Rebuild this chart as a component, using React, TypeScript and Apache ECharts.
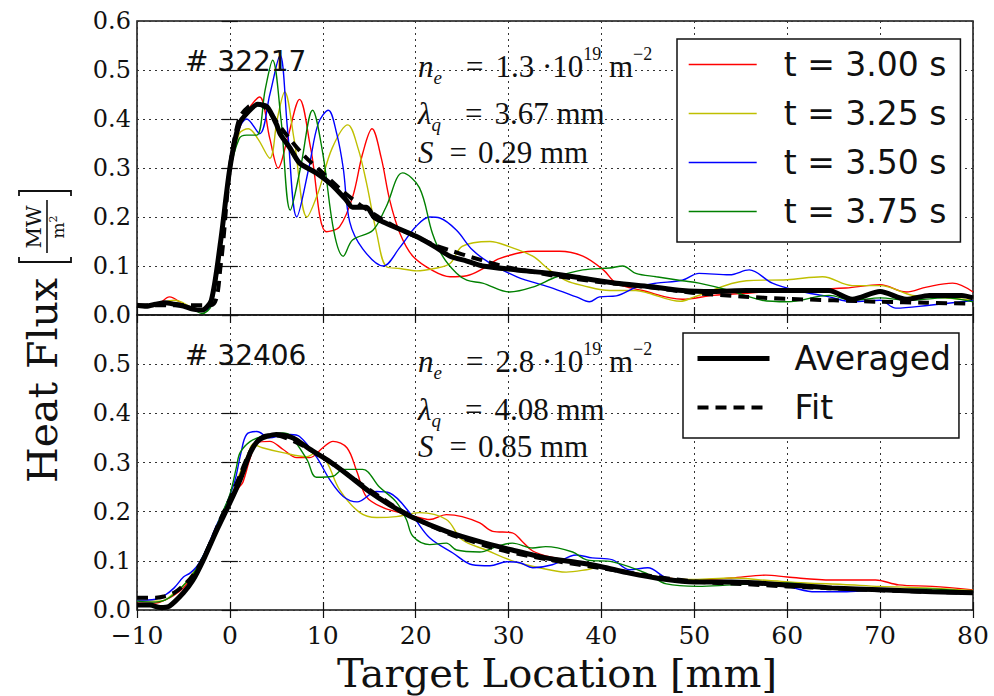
import React, { useEffect, useRef } from "react";
import * as echarts from "echarts";

type Pt = [number, number];

// Axis ranges (mm / MW m^-2)
const xMin = -10;
const xMax = 80;
const xStep = 10;
const yMin = 0;
const yMax = 0.6;
const yStep = 0.1;

const timeLabels = ["t = 3.00 s", "t = 3.25 s", "t = 3.50 s", "t = 3.75 s"];
const timeColors = ["#ff0000", "#bfbf00", "#0000ff", "#008000"];
const avgLabel = "Averaged";
const fitLabel = "Fit";

const shotIds = ["# 32217", "# 32406"];
const densities = ["1.3", "2.8"];
const lambdas = ["3.67", "4.08"];
const spreads = ["0.29", "0.85"];

// ---- Discharge #32217 ----
const s32217_t300: Pt[] = [
  [-10, 0.022], [-8, 0.02], [-6.5, 0.037], [-5, 0.022], [-3, 0.008], [-2, 0.02], [-1, 0.15], [0, 0.3], [1, 0.38],
  [2, 0.42], [3.2, 0.445], [4.3, 0.36], [5.2, 0.3], [6.2, 0.36], [7.5, 0.44], [8.7, 0.34], [10.4, 0.17], [11.8, 0.18],
  [13.2, 0.24], [14.3, 0.33], [15.3, 0.38], [16.3, 0.32], [17.2, 0.235], [18.3, 0.167], [19.7, 0.12], [21.9, 0.09],
  [23.7, 0.078], [25.5, 0.08], [27.3, 0.095], [29, 0.115], [32.6, 0.13], [35.5, 0.13], [38, 0.12], [40.2, 0.092],
  [41.6, 0.065], [44.4, 0.05], [48.7, 0.032], [52, 0.04], [56, 0.045], [60, 0.05], [66.3, 0.055], [70, 0.062],
  [72.8, 0.047], [75, 0.057], [77.8, 0.065], [80, 0.047],
];
const s32217_t325: Pt[] = [
  [-10, 0.02], [-8, 0.022], [-6, 0.03], [-4, 0.015], [-3, 0.01], [-2, 0.02], [-1, 0.14], [0, 0.29], [1, 0.37],
  [2, 0.38], [3, 0.36], [4.3, 0.32], [5.1, 0.4], [5.9, 0.455], [6.9, 0.36], [8.3, 0.2], [9.5, 0.25], [11, 0.34],
  [12.7, 0.388], [13.8, 0.34], [14.7, 0.27], [15.8, 0.167], [16.9, 0.098], [18.3, 0.095], [20.1, 0.09], [22, 0.095],
  [23.7, 0.105], [25, 0.14], [28, 0.15], [30, 0.14], [32.6, 0.12], [34.4, 0.092], [36.2, 0.07], [38, 0.06],
  [40.9, 0.05], [43.7, 0.05], [45, 0.045], [48.5, 0.028], [50, 0.037], [55.6, 0.07], [60, 0.072], [63.8, 0.078],
  [67, 0.06], [70, 0.06], [73.5, 0.04], [77, 0.035], [80, 0.03],
];
const s32217_t350: Pt[] = [
  [-10, 0.02], [-8, 0.02], [-6, 0.025], [-4, 0.015], [-3, 0.008], [-2, 0.02], [-1, 0.14], [0, 0.3], [1, 0.38],
  [1.8, 0.4], [3.2, 0.37], [4.3, 0.45], [5.4, 0.53], [6.2, 0.38], [7.2, 0.2], [8.5, 0.3], [9.5, 0.39], [10.6, 0.418],
  [11.5, 0.37], [12.2, 0.3], [12.9, 0.19], [14.3, 0.135], [16.5, 0.1], [18.3, 0.138], [20, 0.18], [21.5, 0.2],
  [22.6, 0.198], [24.4, 0.173], [26.1, 0.133], [28, 0.106], [30.9, 0.078], [34.4, 0.057], [37.3, 0.037],
  [38.7, 0.027], [39.8, 0.037], [41.6, 0.039], [43.8, 0.057], [45.9, 0.065], [48.7, 0.071], [50.5, 0.085],
  [53.8, 0.082], [55.9, 0.092], [58.4, 0.065], [61, 0.05], [64.5, 0.037], [67, 0.027], [70, 0.03], [71.7, 0.014],
  [75.3, 0.02], [78.8, 0.027], [80, 0.03],
];
const s32217_t375: Pt[] = [
  [-10, 0.02], [-8, 0.018], [-6, 0.025], [-4, 0.012], [-3, 0.003], [-2, 0.02], [-1, 0.13], [0, 0.29], [1, 0.36],
  [1.8, 0.367], [2.9, 0.367], [3.8, 0.46], [4.6, 0.52], [5.5, 0.4], [6.5, 0.214], [7.6, 0.3], [8.9, 0.418], [10, 0.33],
  [11.2, 0.17], [12.2, 0.12], [13.2, 0.153], [15.4, 0.173], [16.8, 0.22], [18.6, 0.29], [20.4, 0.26], [21.8, 0.167],
  [22.9, 0.12], [24.4, 0.085], [25.5, 0.071], [27.2, 0.065], [30.1, 0.047], [32.6, 0.057], [35.2, 0.078], [38, 0.092],
  [40.9, 0.096], [42.3, 0.1], [43.7, 0.085], [45.9, 0.078], [48.7, 0.07], [50.5, 0.065], [53.8, 0.05], [57.3, 0.03],
  [60, 0.027], [64.5, 0.04], [67, 0.03], [70, 0.035], [73, 0.03], [77, 0.035], [80, 0.027],
];
const s32217_avg: Pt[] = [
  [-10, 0.02], [-9, 0.018], [-8, 0.022], [-7, 0.025], [-6, 0.022], [-5, 0.018], [-4, 0.012], [-3, 0.01], [-2, 0.03],
  [-1, 0.15], [0, 0.3], [1, 0.39], [2, 0.415], [3, 0.43], [4, 0.425], [5, 0.39], [5.4, 0.37], [6.5, 0.34], [7.5, 0.31],
  [9.3, 0.29], [11, 0.265], [12.5, 0.235], [13.2, 0.22], [14.7, 0.22], [15.5, 0.2], [16.5, 0.19], [18.3, 0.175],
  [20.1, 0.16], [22, 0.14], [23.7, 0.12], [25.5, 0.11], [27.2, 0.1], [30.9, 0.092], [34.4, 0.085], [38, 0.075],
  [41.6, 0.065], [45.2, 0.058], [48.7, 0.05], [52, 0.048], [55.6, 0.05], [60, 0.05], [64.5, 0.05], [67, 0.032],
  [70, 0.048], [72.8, 0.032], [75.3, 0.04], [78.8, 0.04], [80, 0.035],
];
const s32217_fit: Pt[] = [
  [-10, 0.02], [-6, 0.02], [-2, 0.02], [-1, 0.1], [0, 0.3], [1, 0.4], [2, 0.425], [3, 0.43], [4, 0.42], [5, 0.395],
  [6, 0.37], [8, 0.325], [10, 0.29], [12, 0.255], [14, 0.225], [16, 0.2], [18, 0.178], [20, 0.16], [22, 0.143],
  [24, 0.13], [26, 0.118], [28, 0.107], [30, 0.097], [35, 0.08], [40, 0.067], [45, 0.057], [50, 0.045], [55, 0.038],
  [60, 0.033], [65, 0.03], [70, 0.027], [75, 0.025], [80, 0.023],
];

// ---- Discharge #32406 ----
const s32406_t300: Pt[] = [
  [-10, 0.014], [-8, 0.014], [-7, 0.02], [-6, 0.03], [-5, 0.045], [-4, 0.07], [-3, 0.1], [-2, 0.14], [-1, 0.18],
  [0, 0.22], [1, 0.25], [1.4, 0.26], [2.2, 0.31], [2.9, 0.34], [4.3, 0.343], [5.7, 0.327], [7.2, 0.31], [8.6, 0.31],
  [10, 0.33], [11.1, 0.343], [12.6, 0.33], [13.7, 0.28], [14.7, 0.23], [16.5, 0.208], [18.3, 0.198], [20, 0.19],
  [21.5, 0.184], [23.3, 0.194], [25, 0.19], [26.9, 0.177], [28.3, 0.16], [30.4, 0.157], [31.5, 0.139], [32.6, 0.12],
  [34.5, 0.108], [38, 0.096], [41.6, 0.082], [47, 0.065], [50, 0.061], [54, 0.065], [57.7, 0.071], [60, 0.067],
  [64.8, 0.061], [69.5, 0.061], [72, 0.051], [75.6, 0.048], [80, 0.041],
];
const s32406_t325: Pt[] = [
  [-10, 0.02], [-8, 0.018], [-7, 0.02], [-6, 0.035], [-5, 0.05], [-4, 0.075], [-3, 0.105], [-2, 0.145], [-1, 0.185],
  [0, 0.225], [1, 0.275], [2, 0.32], [2.5, 0.337], [3.5, 0.33], [5.7, 0.32], [8.3, 0.312], [9.3, 0.32], [10.4, 0.302],
  [11.8, 0.245], [14, 0.198], [15.8, 0.188], [17.9, 0.19], [20.4, 0.198], [23.3, 0.184], [25, 0.143], [27.6, 0.122],
  [30.4, 0.1], [33.3, 0.086], [36.2, 0.077], [38.4, 0.082], [40, 0.088], [43, 0.078], [47, 0.065], [50, 0.062],
  [54, 0.065], [58, 0.06], [62, 0.055], [66, 0.052], [70, 0.048], [75, 0.045], [80, 0.04],
];
const s32406_t350: Pt[] = [
  [-10, 0.02], [-8, 0.022], [-7, 0.03], [-6, 0.045], [-5, 0.067], [-4.3, 0.075], [-3.5, 0.09], [-2.5, 0.125],
  [-1.5, 0.17], [-0.5, 0.21], [0.5, 0.26], [1.2, 0.32], [1.8, 0.357], [2.9, 0.363], [4.3, 0.35], [5.5, 0.355],
  [6.5, 0.357], [7.5, 0.353], [9.3, 0.312], [10.75, 0.265], [12.2, 0.231], [13.7, 0.22], [15.8, 0.241], [17.2, 0.238],
  [19.7, 0.19], [21.5, 0.147], [24, 0.116], [26.1, 0.092], [28, 0.09], [29.8, 0.098], [31.2, 0.096], [32.6, 0.086],
  [34.7, 0.092], [37.3, 0.112], [39, 0.106], [41.2, 0.102], [43, 0.082], [45, 0.086], [47, 0.065], [50, 0.057],
  [55, 0.055], [60, 0.047], [63, 0.037], [66, 0.037], [70, 0.041], [75, 0.037], [80, 0.035],
];
const s32406_t375: Pt[] = [
  [-10, 0.018], [-8, 0.016], [-7, 0.02], [-6, 0.032], [-5, 0.05], [-4, 0.072], [-3, 0.105], [-2, 0.145], [-1, 0.19],
  [0, 0.235], [0.7, 0.29], [1.1, 0.32], [2.2, 0.343], [3.5, 0.353], [5.7, 0.36], [6.5, 0.355], [8.3, 0.306],
  [9.3, 0.27], [11.1, 0.272], [12.2, 0.286], [14.3, 0.286], [16.1, 0.25], [17.9, 0.22], [19, 0.184], [19.7, 0.15],
  [21.5, 0.133], [23.3, 0.136], [24.4, 0.122], [26.9, 0.118], [28.7, 0.129], [30.4, 0.136], [32.6, 0.126], [34, 0.129],
  [36.9, 0.118], [38.4, 0.102], [41.2, 0.098], [44.8, 0.075], [47, 0.053], [50.4, 0.048], [54, 0.051], [60, 0.055],
  [64.8, 0.045], [70, 0.041], [75, 0.043], [80, 0.037],
];
const s32406_avg: Pt[] = [
  [-10, 0.01], [-8.6, 0.01], [-7.5, 0.005], [-6.5, 0.008], [-5, 0.035], [-4, 0.06], [-2.9, 0.1], [-1.4, 0.163],
  [0, 0.218], [1.1, 0.265], [2.2, 0.32], [3.2, 0.347], [5, 0.357], [6.8, 0.35], [8.6, 0.327], [10.75, 0.302],
  [12.9, 0.272], [15, 0.241], [17.2, 0.214], [19.7, 0.188], [23.3, 0.16], [26.9, 0.139], [30.4, 0.122], [34, 0.106],
  [37.6, 0.096], [40, 0.088], [43, 0.075], [46.6, 0.063], [50, 0.057], [54, 0.057], [60, 0.051], [64.8, 0.045],
  [70, 0.041], [75.6, 0.037], [80, 0.035],
];
const s32406_fit: Pt[] = [
  [-10, 0.025], [-8, 0.025], [-7, 0.028], [-6, 0.035], [-5, 0.05], [-4, 0.07], [-3, 0.1], [-2, 0.14], [-1, 0.185],
  [0, 0.225], [1, 0.27], [2, 0.315], [3, 0.345], [4, 0.355], [5, 0.355], [6, 0.35], [8, 0.333], [10, 0.31],
  [12, 0.285], [14, 0.258], [16, 0.232], [18, 0.207], [20, 0.186], [22, 0.168], [24, 0.152], [26, 0.14], [28, 0.128],
  [30, 0.118], [35, 0.1], [40, 0.085], [45, 0.07], [50, 0.058], [55, 0.053], [60, 0.048], [65, 0.044], [70, 0.04],
  [75, 0.037], [80, 0.035],
];

const panels = [
  { shot: [s32217_t300, s32217_t325, s32217_t350, s32217_t375], avg: s32217_avg, fit: s32217_fit },
  { shot: [s32406_t300, s32406_t325, s32406_t350, s32406_t375], avg: s32406_avg, fit: s32406_fit },
];

const SERIF = "DejaVu Serif";
const SANS = "DejaVu Sans";
const MATH = "Liberation Serif";
const INK = "#111";

const GRID_LEFT = 137;
const GRID_RIGHT = 21;
const GRIDS = [
  { top: 21, height: 294 },
  { top: 315, height: 295 },
];

const MATH_SIZE = 31;
const MATH_LH = 42;
const mathRich: Record<string, any> = {
  it: { fontFamily: MATH, fontStyle: "italic", fontSize: MATH_SIZE, lineHeight: MATH_LH, fill: INK },
  sub: { fontFamily: MATH, fontStyle: "italic", fontSize: 19, verticalAlign: "bottom", fill: INK },
  sup: { fontFamily: MATH, fontSize: 18, verticalAlign: "top", fill: INK },
  rm: { fontFamily: MATH, fontSize: MATH_SIZE, lineHeight: MATH_LH, fill: INK },
  eqA: { fontFamily: MATH, fontSize: MATH_SIZE, lineHeight: MATH_LH, fill: INK, padding: [0, 12, 0, 24] },
  eqB: { fontFamily: MATH, fontSize: MATH_SIZE, lineHeight: MATH_LH, fill: INK, padding: [0, 11, 0, 16] },
};

function panelTexts(i: number, rowY: number[], idY: number) {
  const x0 = 418;
  const rows = [
    `{it|n}{sub|e}{eqA|=}{rm|${densities[i]} ·10}{sup|19}{rm| m}{sup|−2}`,
    `{it|λ}{sub|q}{eqA|=}{rm|${lambdas[i]} mm}`,
    `{it|S}{eqB|=}{rm|${spreads[i]} mm}`,
  ];
  const items: any[] = rows.map((t, k) => ({
    type: "text",
    x: x0,
    y: rowY[k],
    z: 50,
    style: { text: t, rich: mathRich, verticalAlign: "middle", align: "left", fill: INK },
  }));
  items.push({
    type: "text",
    x: 185,
    y: idY,
    z: 50,
    style: {
      text: shotIds[i],
      fontFamily: SANS,
      fontSize: 28,
      fill: INK,
      verticalAlign: "middle",
      align: "left",
    },
  });
  return items;
}

function yTitle() {
  return {
    type: "group",
    x: 45,
    y: 337,
    rotation: Math.PI / 2,
    z: 50,
    children: [
      {
        type: "text",
        x: -146,
        y: -2,
        style: { text: "Heat Flux", fontFamily: SERIF, fontSize: 41, fill: INK, verticalAlign: "middle", align: "left" },
      },
      {
        type: "polyline",
        shape: { points: [[80, -26], [75, -26], [75, 26], [80, 26]] },
        style: { stroke: INK, lineWidth: 1.8, fill: null },
      },
      {
        type: "polyline",
        shape: { points: [[141, -26], [146, -26], [146, 26], [141, 26]] },
        style: { stroke: INK, lineWidth: 1.8, fill: null },
      },
      {
        type: "text",
        x: 110,
        y: -11,
        style: { text: "MW", fontFamily: SERIF, fontSize: 21, fill: INK, verticalAlign: "middle", align: "center" },
      },
      {
        type: "line",
        shape: { x1: 84, y1: 2, x2: 137, y2: 2 },
        style: { stroke: INK, lineWidth: 1.6 },
      },
      {
        type: "text",
        x: 110,
        y: 13,
        style: {
          text: "{m|m}{s|2}",
          rich: {
            m: { fontFamily: SERIF, fontSize: 17, fill: INK, lineHeight: 20 },
            s: { fontFamily: SERIF, fontSize: 11, fill: INK, verticalAlign: "top" },
          },
          verticalAlign: "middle",
          align: "center",
        },
      },
    ],
  };
}

function buildOption() {
  const gridLine = { show: true, lineStyle: { color: "#333", type: [2, 4], width: 1 } };
  const tick = { show: true, inside: true, length: 8, lineStyle: { color: INK, width: 1.2 } };
  const fmtX = (v: number) => (v < 0 ? "\u2212" + Math.abs(v) : String(v));
  const fmtY = (hideTop: boolean) => (v: number) =>
    hideTop && Math.abs(v - yMax) < 1e-9 ? "" : v.toFixed(1);

  const xAxis: any[] = [];
  const yAxis: any[] = [];
  GRIDS.forEach((_, g) => {
    xAxis.push({
      type: "value",
      gridIndex: g,
      min: xMin,
      max: xMax,
      interval: xStep,
      position: "bottom",
      axisLine: { show: false },
      axisTick: tick,
      splitLine: gridLine,
      axisLabel:
        g === 1
          ? { fontFamily: SERIF, fontSize: 25, color: INK, lineHeight: 20, margin: 15, formatter: fmtX }
          : { show: false },
    });
    yAxis.push({
      type: "value",
      gridIndex: g,
      min: yMin,
      max: yMax,
      interval: yStep,
      position: "left",
      axisLine: { show: false },
      axisTick: tick,
      splitLine: gridLine,
      axisLabel: {
        fontFamily: SERIF,
        fontSize: 24,
        color: INK,
        lineHeight: 18,
        padding: [0, 0, 8, 0],
        margin: 6,
        formatter: fmtY(g === 1),
      },
    });
  });
  // mirrored ticks on the top and right edges of each panel
  GRIDS.forEach((_, g) => {
    xAxis.push({
      type: "value",
      gridIndex: g,
      min: xMin,
      max: xMax,
      interval: xStep,
      position: "top",
      axisLine: { show: false },
      axisTick: tick,
      splitLine: { show: false },
      axisLabel: { show: false },
    });
    yAxis.push({
      type: "value",
      gridIndex: g,
      min: yMin,
      max: yMax,
      interval: yStep,
      position: "right",
      axisLine: { show: false },
      axisTick: tick,
      splitLine: { show: false },
      axisLabel: { show: false },
    });
  });

  const series: any[] = [];
  panels.forEach((p, g) => {
    p.shot.forEach((data, k) => {
      series.push({
        type: "line",
        name: timeLabels[k],
        xAxisIndex: g,
        yAxisIndex: g,
        data,
        symbol: "none",
        smooth: 0.35,
        z: 3,
        lineStyle: { color: timeColors[k], width: 1.4 },
        itemStyle: { color: timeColors[k] },
      });
    });
    series.push({
      type: "line",
      name: avgLabel,
      xAxisIndex: g,
      yAxisIndex: g,
      data: p.avg,
      symbol: "none",
      smooth: 0.25,
      z: 4,
      lineStyle: { color: "#000", width: 5 },
      itemStyle: { color: "#000" },
    });
    series.push({
      type: "line",
      name: fitLabel,
      xAxisIndex: g,
      yAxisIndex: g,
      data: p.fit,
      symbol: "none",
      smooth: 0.3,
      z: 5,
      lineStyle: { color: "#000", width: 4, type: [11, 7] },
      itemStyle: { color: "#000" },
    });
  });

  const legendBase = {
    orient: "vertical",
    backgroundColor: "#fff",
    borderColor: INK,
    borderWidth: 1.5,
    borderRadius: 0,
    itemHeight: 14,
    itemGap: 16,
    selectedMode: false,
    // line-only keys: hide the marker the line icon carries by default
    itemStyle: { opacity: 0, borderWidth: 0 },
    lineStyle: { width: "inherit", type: "inherit" },
    z: 20,
  };

  return {
    animation: false,
    backgroundColor: "#fff",
    grid: GRIDS.map((g) => ({
      left: GRID_LEFT,
      right: GRID_RIGHT,
      top: g.top,
      height: g.height,
      show: true,
      borderColor: INK,
      borderWidth: 1.5,
      backgroundColor: "transparent",
      containLabel: false,
    })),
    xAxis,
    yAxis,
    legend: [
      {
        ...legendBase,
        data: timeLabels,
        left: 677,
        top: 39,
        padding: [9, 14, 14, 11],
        itemWidth: 68,
        formatter: (n: string) => `{l|${n}}`,
        textStyle: {
          rich: { l: { fontFamily: SANS, fontSize: 33, lineHeight: 33, color: INK, padding: [0, 0, 0, 22] } },
        },
      },
      {
        ...legendBase,
        data: [avgLabel, fitLabel],
        left: 683,
        top: 333,
        padding: [9, 8, 14, 12],
        itemWidth: 72,
        formatter: (n: string) => `{l|${n}}`,
        textStyle: {
          rich: { l: { fontFamily: SANS, fontSize: 33, lineHeight: 33, color: INK, padding: [0, 0, 0, 20] } },
        },
      },
    ],
    graphic: [
      ...panelTexts(0, [66, 113, 152], 61),
      ...panelTexts(1, [361, 409, 446], 355),
      yTitle(),
      {
        type: "text",
        x: 557,
        y: 673,
        z: 50,
        style: {
          text: "Target Location [mm]",
          fontFamily: SERIF,
          fontSize: 40,
          fill: INK,
          align: "center",
          verticalAlign: "middle",
        },
      },
    ],
    series,
  };
}

export default function App() {
  const ref = useRef<HTMLDivElement>(null);
  useEffect(() => {
    if (!ref.current) return;
    const chart = echarts.init(ref.current, undefined, { renderer: "svg" });
    chart.setOption(buildOption() as any);
    return () => chart.dispose();
  }, []);
  return (
    <div
      ref={ref}
      style={{ position: "absolute", left: 0, top: 0, width: 994, height: 696, background: "#fff" }}
    />
  );
}
